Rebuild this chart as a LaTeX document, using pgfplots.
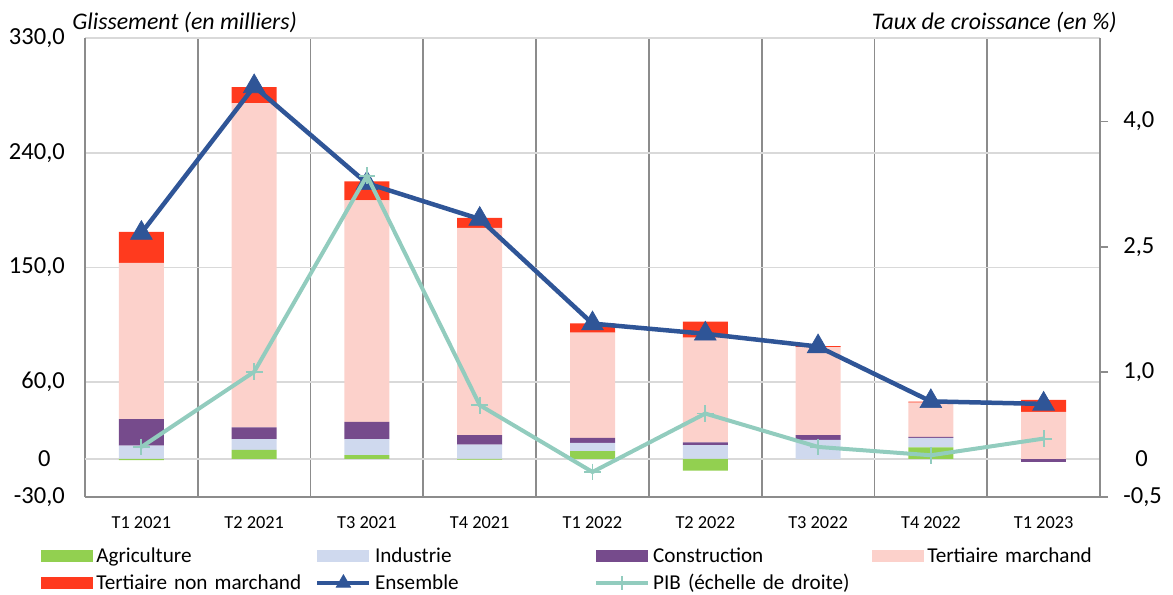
\documentclass[border=0pt]{standalone}
\usepackage{pgfplots}
\pgfplotsset{compat=1.18}
\usepackage{fontspec}
\setmainfont{Carlito}
\definecolor{agri}{RGB}{146,208,80}
\definecolor{indu}{RGB}{207,217,238}
\definecolor{cons}{RGB}{118,75,140}
\definecolor{tmar}{RGB}{252,209,203}
\definecolor{tnm}{RGB}{255,58,30}
\definecolor{ens}{RGB}{47,85,151}
\definecolor{pib}{RGB}{146,204,190}
\definecolor{gridc}{RGB}{217,217,217}
\definecolor{axc}{RGB}{140,140,140}
\pgfplotsset{
  base/.style={scale only axis, width=609pt, height=275.4pt, at={(51pt,58.2pt)}, anchor=south west,
    xmin=-0.5, xmax=8.5, ymin=-30, ymax=330, clip=false},
  barleg/.style={legend image code/.code={\fill[##1, draw=none] (0pt,-3.6pt) rectangle (31.2pt,3.6pt);}},
  lineleg/.style={legend image code/.code={\draw[##1, sharp plot, mark repeat=2, mark phase=2] plot coordinates {(0pt,0pt) (15.6pt,0pt) (31.2pt,0pt)};}},
}
\begin{document}
\begin{tikzpicture}
\useasboundingbox (0,0) rectangle (703.8pt,356.4pt);
% bars (positive parts)
\begin{axis}[base,
  ybar stacked, bar width=27pt,
  axis x line*=bottom, axis y line*=left,
  axis line style={-, draw=axc, line width=1.1pt},
  xtick={0,...,8},
  xticklabels={T1 2021,T2 2021,T3 2021,T4 2021,T1 2022,T2 2022,T3 2022,T4 2022,T1 2023},
  minor xtick={0.5,1.5,...,7.5},
  xminorgrids=true,
  minor x grid style={draw=axc, line width=1.1pt},
  ytick={-30,60,150,240,330},
  ymajorgrids=true,
  major y grid style={draw=gridc, line width=1.1pt},
  major tick length=0pt, minor tick length=0pt,
  extra y ticks={0}, extra y tick labels={0},
  extra y tick style={grid=major, major grid style={draw=gridc, line width=1.1pt}, tick label style={xshift=-8.5pt}},
  yticklabel style={font=\fontsize{14.7}{16}\selectfont, xshift=-8.6pt},
  xticklabel style={font=\fontsize{11}{12}\selectfont, yshift=-8pt},
  /pgf/number format/.cd, use comma, fixed, fixed zerofill, precision=1, assume math mode=true,
]
\addplot[fill=agri, draw=none] coordinates {(0,0) (1,7.0) (2,2.9) (3,0) (4,6.0) (5,0) (6,0) (7,8.9) (8,0)};
\addplot[fill=indu, draw=none] coordinates {(0,10.2) (1,8.4) (2,12.5) (3,11.0) (4,6.5) (5,10.7) (6,14.9) (7,7.5) (8,0)};
\addplot[fill=cons, draw=none] coordinates {(0,20.8) (1,9.2) (2,13.6) (3,7.5) (4,3.9) (5,2.1) (6,3.6) (7,0.8) (8,0)};
\addplot[fill=tmar, draw=none] coordinates {(0,122.7) (1,254.4) (2,173.7) (3,162.5) (4,82.5) (5,82.2) (6,69.1) (7,26.9) (8,36.8)};
\addplot[fill=tnm, draw=none] coordinates {(0,24.3) (1,12.4) (2,14.8) (3,7.9) (4,7.3) (5,12.5) (6,0.8) (7,0.8) (8,9.4)};
\end{axis}
% bars (negative parts)
\begin{axis}[base, hide axis, ybar stacked, bar width=27pt]
\addplot[fill=agri, draw=none] coordinates {(0,-1.0) (1,0) (2,0) (3,-0.7) (4,0) (5,-9.4) (6,0) (7,0) (8,0)};
\addplot[fill=cons, draw=none] coordinates {(0,0) (1,0) (2,0) (3,0) (4,0) (5,0) (6,0) (7,0) (8,-2.8)};
\end{axis}
% Ensemble
\begin{axis}[base, hide axis]
\addplot[ens, line width=2.7pt, mark=triangle*, mark size=7.5pt, mark options={line width=0.4pt}]
  coordinates {(0,177) (1,292) (2,216) (3,188) (4,106) (5,98) (6,88) (7,45) (8,43)};
\end{axis}
% PIB, right axis
\begin{axis}[base, ymin=-0.5, ymax=5,
  axis x line=none, axis y line*=right,
  axis line style={-, draw=axc, line width=1.1pt},
  ytick={-0.5,1,2.5,4},
  tick align=outside, major tick length=4.8pt,
  tick style={draw=axc, line width=1.1pt},
  yticklabel style={font=\fontsize{14.7}{16}\selectfont, xshift=5.7pt},
  /pgf/number format/.cd, use comma, fixed, fixed zerofill, precision=1, assume math mode=true,
]
\addplot[pib, line width=2.4pt, mark=+, mark size=5pt, mark options={line width=1.1pt}]
  coordinates {(0,0.1) (1,1.0) (2,3.35) (3,0.6) (4,-0.2) (5,0.5) (6,0.1) (7,0.0) (8,0.2)};
\end{axis}
% legend
\begin{axis}[hide axis, scale only axis, width=1pt, height=1pt, at={(24.6pt,29.8pt)}, anchor=south west,
  xmin=0, xmax=1, ymin=0, ymax=1,
  legend columns=4,
  legend cell align=left,
  legend style={at={(0,0)}, anchor=north west, draw=none, fill=none, inner sep=0pt, outer sep=0pt,
    font=\fontsize{12.7}{14}\selectfont, row sep=1.5pt,
    /tikz/every even column/.append style={text width=129.3pt, align=left, inner sep=3pt},
    /tikz/every odd column/.append style={column sep=0pt}},
]
\addlegendimage{barleg, fill=agri}\addlegendentry{Agriculture}
\addlegendimage{barleg, fill=indu}\addlegendentry{Industrie}
\addlegendimage{barleg, fill=cons}\addlegendentry{Construction}
\addlegendimage{barleg, fill=tmar}\addlegendentry{Tertiaire marchand}
\addlegendimage{barleg, fill=tnm}\addlegendentry{Tertiaire non marchand}
\addlegendimage{lineleg, ens, line width=2.7pt, mark=triangle*, mark size=5pt, mark options={line width=0.4pt}}\addlegendentry{Ensemble}
\addlegendimage{lineleg, pib, line width=2.4pt, mark=+, mark size=4pt, mark options={line width=1pt}}\addlegendentry{PIB (échelle de droite)}
\end{axis}
\node[anchor=base west, font=\fontsize{14.3}{16}\selectfont\itshape, inner sep=0pt] at (43.2pt,338.4pt) {Glissement (en milliers)};
\node[anchor=base east, font=\fontsize{14.3}{16}\selectfont\itshape, inner sep=0pt] at (670.2pt,338.4pt) {Taux de croissance (en \%)};
\node[anchor=west, font=\fontsize{14.7}{16}\selectfont, inner sep=0pt] at (681pt,81.4pt) {0};
\end{tikzpicture}
\end{document}
